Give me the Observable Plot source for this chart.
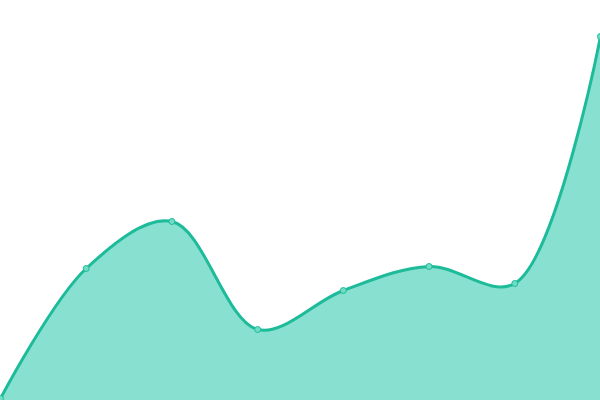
<!DOCTYPE html>
<html><head><meta charset="utf-8">
<script src="https://cdn.jsdelivr.net/npm/d3@7"></script>
<script src="https://cdn.jsdelivr.net/npm/@observablehq/plot@0.6"></script>
<style>body{margin:0;background:#fff}</style>
</head><body><div id="chart"></div>
<script>
const xs = [0, 1, 2, 3, 4, 5, 6, 7];
const values = [2, 132, 179, 71, 110, 134, 117, 364];
const data = xs.map((x, i) => ({x, y: values[i]}));
const chart = Plot.plot({
  width: 600, height: 400,
  margin: 0,
  x: {domain: [0, 7], axis: null},
  y: {domain: [0, 400], axis: null},
  marks: [
    Plot.areaY(data, {x: "x", y: "y", curve: "catmull-rom", fill: "#88e0d0"}),
    Plot.lineY(data, {x: "x", y: "y", curve: "catmull-rom", stroke: "#1dbb99", strokeWidth: 3}),
    Plot.dot(data, {x: "x", y: "y", r: 3, fill: "#6fdcc4", stroke: "#1dbb99", strokeWidth: 1})
  ]
});
document.getElementById("chart").appendChild(chart);
</script></body></html>
